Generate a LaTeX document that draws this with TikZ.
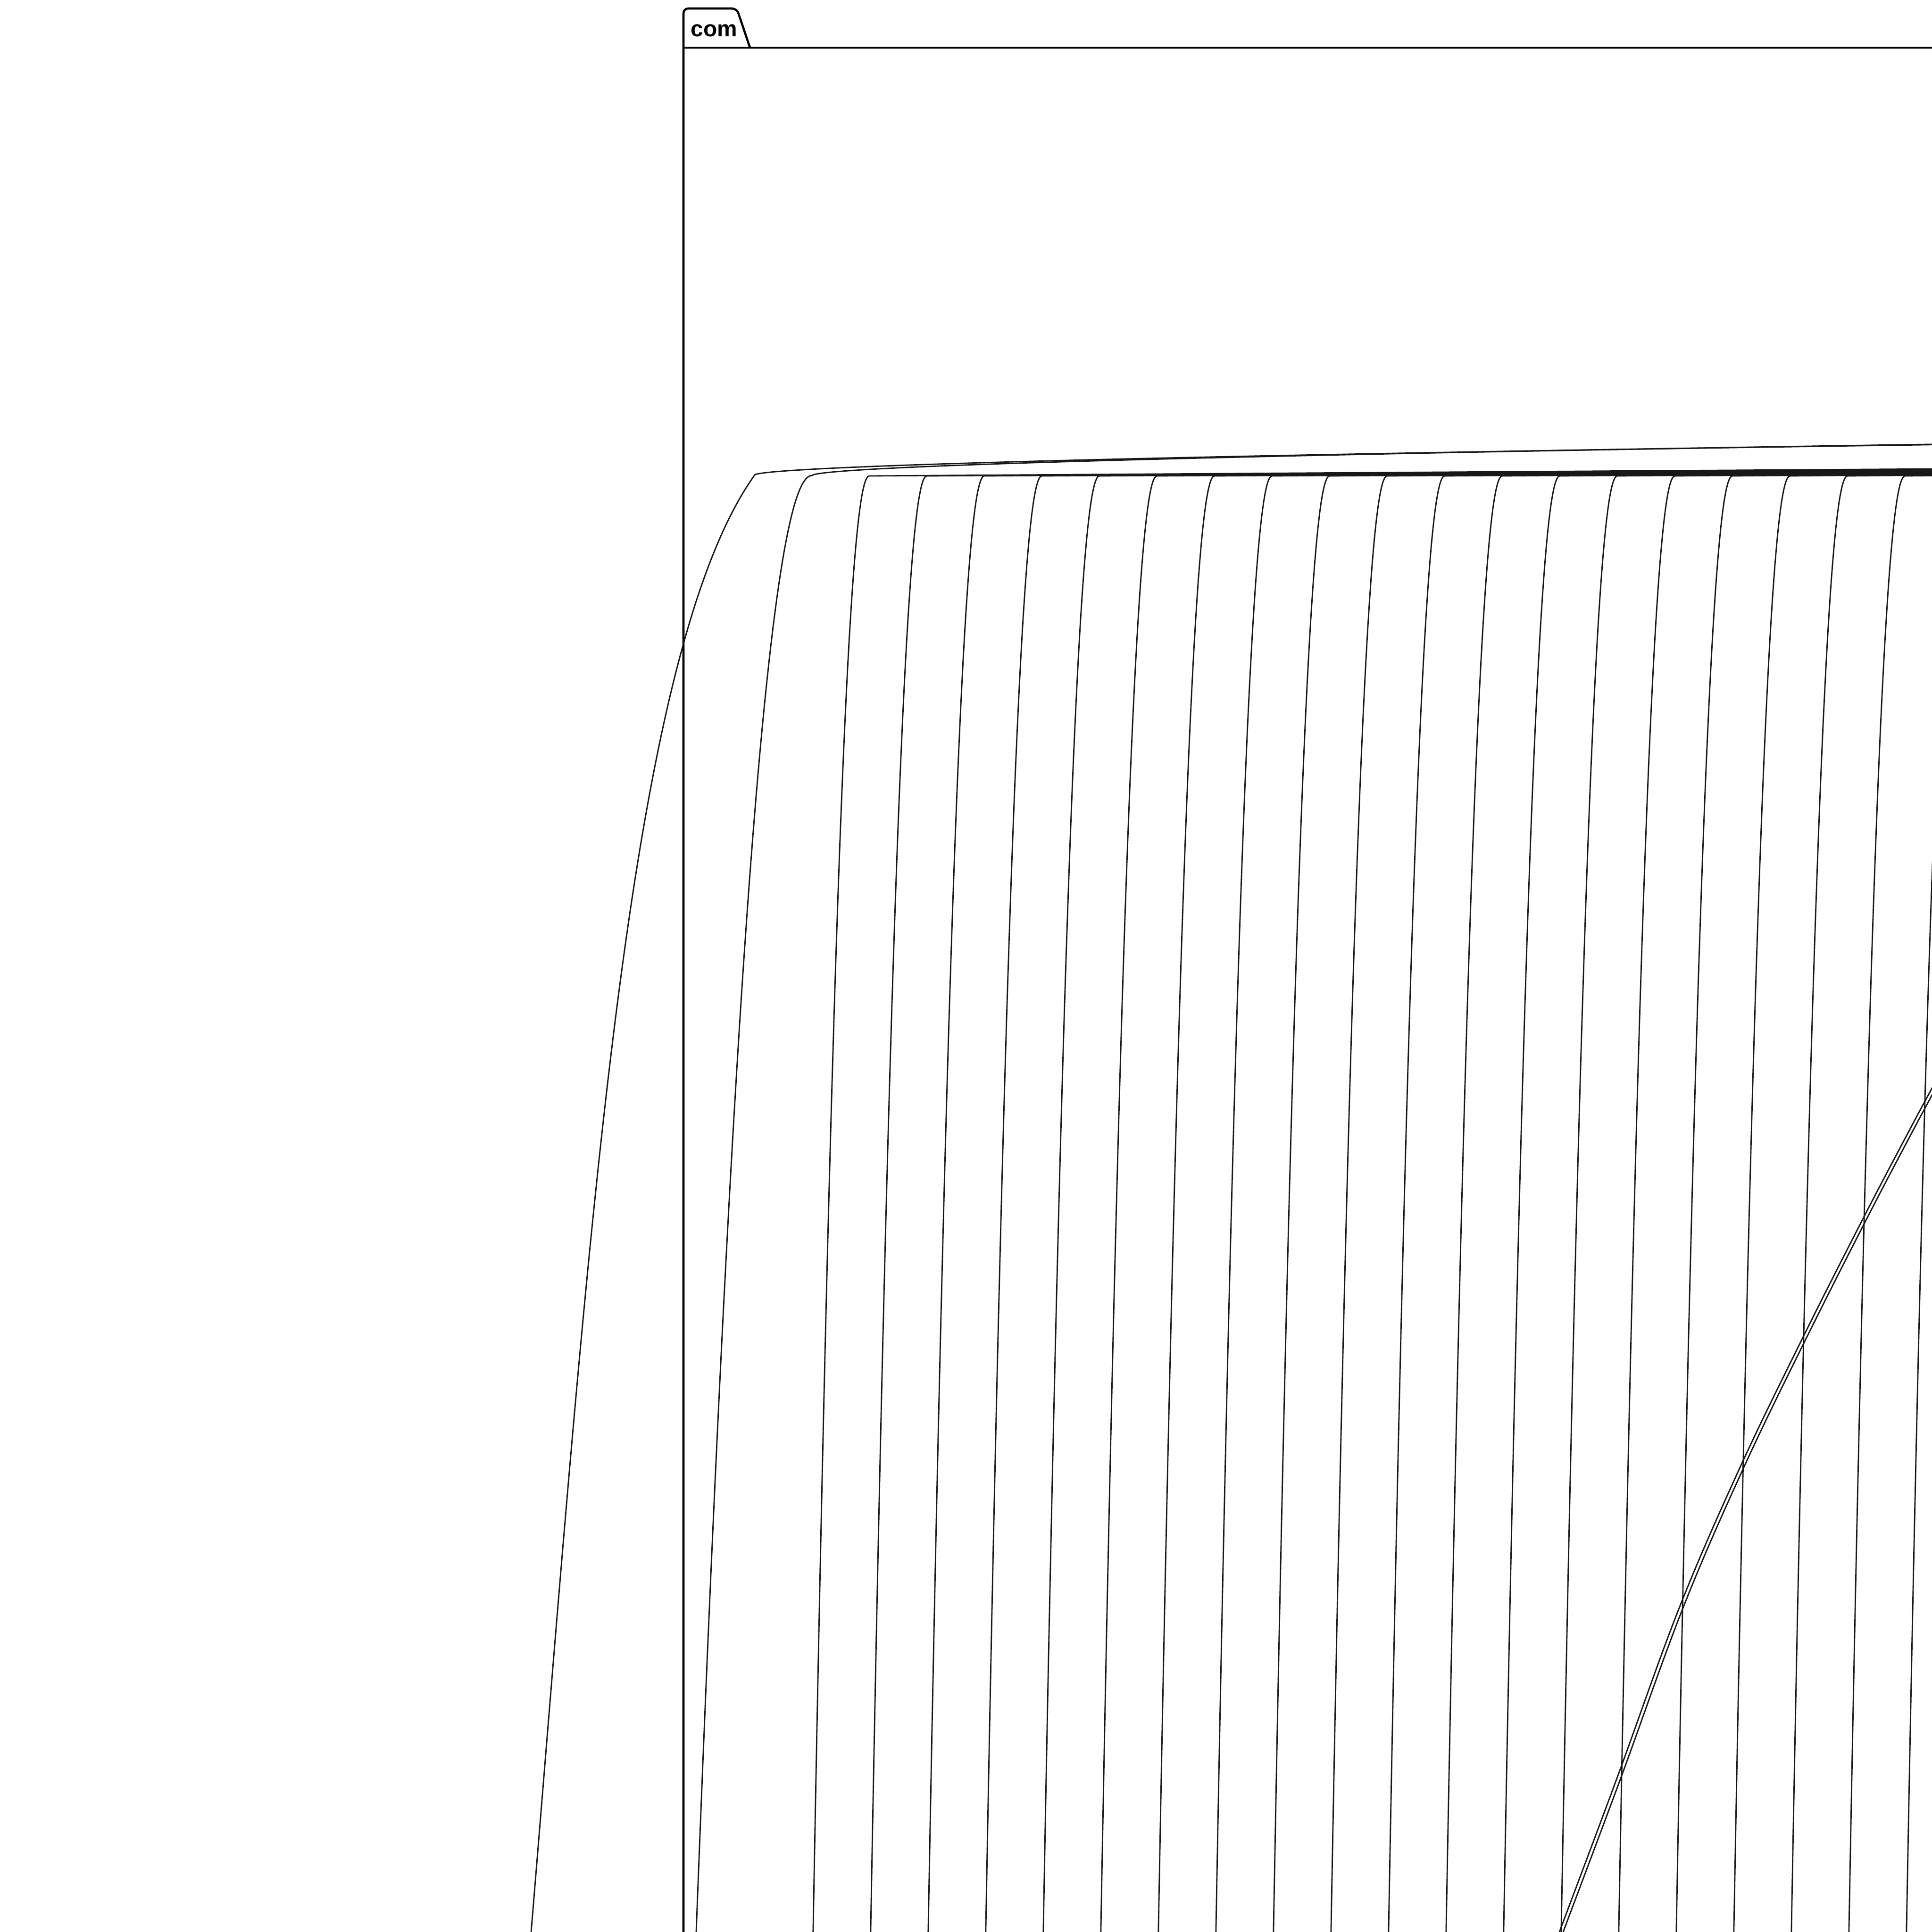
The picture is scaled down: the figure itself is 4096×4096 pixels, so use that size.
\documentclass[tikz,border=0pt]{standalone}
\usepackage{fontspec}
\setmainfont{Liberation Sans}
\begin{document}
\begin{tikzpicture}[x=0.01cm,y=-0.01cm,
  edge/.style={line width=0.8pt, draw={rgb,255:red,24;green,24;blue,24}, line join=round, line cap=round},
  pkgframe/.style={line width=1.3pt, draw=black, line join=round},
  pkglabel/.style={anchor=base west, inner sep=0pt, font=\bfseries\fontsize{13.6}{16}\selectfont}]
\useasboundingbox (0,0) rectangle (4096,4096);
\fill[white] (0,0) rectangle (4096,4096);
\begin{scope}
\clip (0,0) rectangle (4096,4096);
% package frame
\draw[pkgframe, rounded corners=1mm] (1449,4200) -- (1449,18) -- (1562,18) -- (1590,101);
\draw[pkgframe] (1449,101) -- (4200,101);
\node[pkglabel] (com) at (1464,77) {com};
% corners of the two outer edges
\coordinate (c1) at (1600,1007);
\coordinate (c2) at (1722,1008);
% edge 1
\draw[edge] (c1) -- plot[domain=0.01:52, samples=70, variable=\s] ({1600+\s*\s},{1007-0.87*pow(\s,1.1)});
\draw[edge] (c1) .. controls (1330,1385) and (1250,2600) .. (1126,4096) -- (1112,4300);
% edge 2
\draw[edge] (c2) -- plot[domain=0.01:52, samples=70, variable=\s] ({1722+\s*\s},{1008-0.92*pow(\s,1.1)});
\draw[edge] (c2) -- plot[domain=0.01:62, samples=70, variable=\t] ({1722-5.2*pow(\t,0.96)},{1008+\t*\t});
% fan of edges
\foreach \k in {0,...,19}{
  \pgfmathsetmacro\xc{1843+122*\k}
  \pgfmathsetmacro\ye{1009-40.6/(8000-\xc)*(4300-\xc)}
  \coordinate (f\k) at (\xc,1009);
  \draw[edge] (4300,\ye) -- (f\k) -- plot[domain=0.05:62, samples=60, variable=\t] ({\xc-2.73*pow(\t,0.94)},{1009+\t*\t});
}
% double diagonal
\draw[edge] plot[smooth, tension=0.6] coordinates {(4160,2190) (4096,2307) (4046,2400) (3950,2583) (3819,2842) (3688,3113) (3560,3409) (3428,3770) (3306,4096) (3290,4140)};
\draw[edge, xshift=0.08cm] plot[smooth, tension=0.6] coordinates {(4160,2190) (4096,2307) (4046,2400) (3950,2583) (3819,2842) (3688,3113) (3560,3409) (3428,3770) (3306,4096) (3290,4140)};
\end{scope}
\end{tikzpicture}
\end{document}
